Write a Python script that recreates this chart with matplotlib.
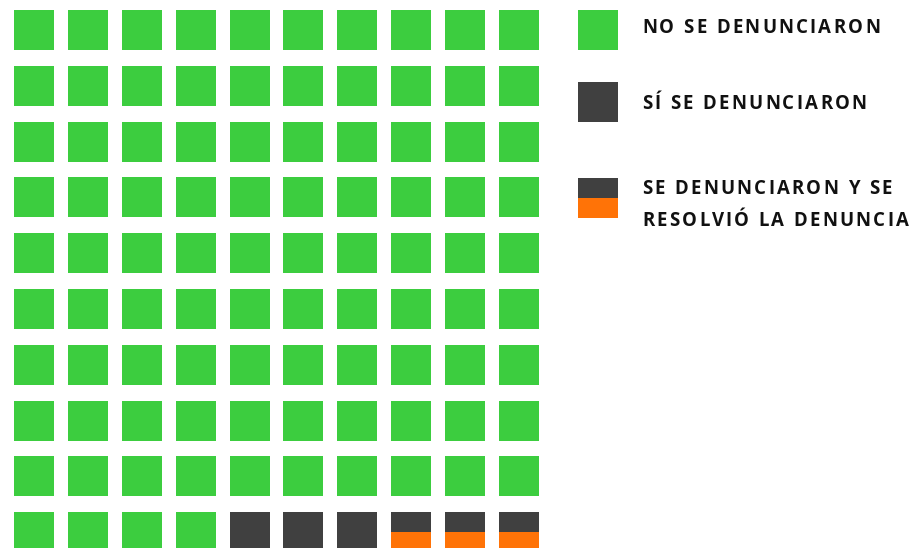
import matplotlib
matplotlib.use("Agg")
import matplotlib.pyplot as plt
from matplotlib.patches import Rectangle
from matplotlib.font_manager import FontProperties

# Data
categories = ["NO SE DENUNCIARON", "SÍ SE DENUNCIARON", "SE DENUNCIARON Y SE\nRESOLVIÓ LA DENUNCIA"]
counts = [94, 3, 3]
colors = ["#3ccd3f", "#404040", "#ff7307"]
n_rows, n_cols = 10, 10

fig = plt.figure(figsize=(9.2, 5.48), dpi=100)
ax = fig.add_axes([0, 0, 1, 1])
ax.set_xlim(0, 920)
ax.set_ylim(548, 0)
ax.axis("off")

x0, y0 = 14, 10
px, py = 53.9, 55.8
size = 40

def draw_cell(x, y, kind):
    if kind == 0:
        ax.add_patch(Rectangle((x, y), size, size, color=colors[0], lw=0))
    elif kind == 1:
        ax.add_patch(Rectangle((x, y), size, size, color=colors[1], lw=0))
    else:
        ax.add_patch(Rectangle((x, y), size, size / 2, color=colors[1], lw=0))
        ax.add_patch(Rectangle((x, y + size / 2), size, size / 2, color=colors[2], lw=0))

kinds = []
for k, c in enumerate(counts):
    kinds += [k] * c

for idx, kind in enumerate(kinds):
    r, c = divmod(idx, n_cols)
    draw_cell(x0 + c * px, y0 + r * py, kind)

# Legend with letter spacing
renderer = fig.canvas.get_renderer()
prop = FontProperties(family="Open Sans", weight="bold", size=13.4)
target_width = 238.0  # measured width of first legend line

w_full, _, _ = renderer.get_text_width_height_descent(categories[0], prop, ismath=False)
tracking = (target_width - w_full) / (len(categories[0]) - 1)

def spaced_text(x, y, s):
    for i, ch in enumerate(s):
        if i > 0:
            w, _, _ = renderer.get_text_width_height_descent(s[:i], prop, ismath=False)
        else:
            w = 0
        ax.text(x + w + i * tracking, y, ch, fontproperties=prop,
                va="baseline", ha="left", color="#111111")

lx, tx = 578, 642
ly = [10, 82, 178]
baselines = [[33], [109], [194, 226]]
for k, (lab, yy, bl) in enumerate(zip(categories, ly, baselines)):
    draw_cell(lx, yy, k)
    for line, b in zip(lab.split("\n"), bl):
        spaced_text(tx, b, line)

fig.savefig("out.png", dpi=100)
